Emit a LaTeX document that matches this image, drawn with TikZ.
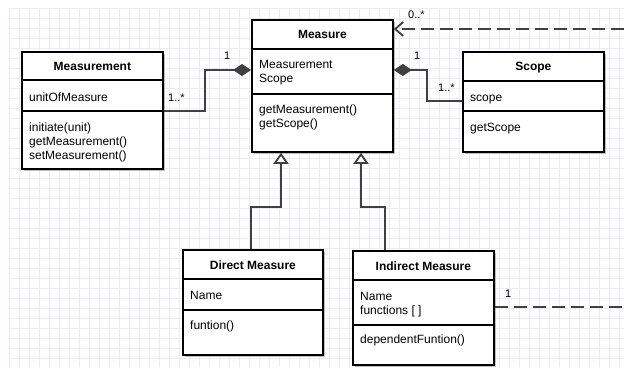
\documentclass[tikz,border=0pt]{standalone}
\usepackage{fontspec}
\setmainfont{Liberation Sans}
\usetikzlibrary{arrows.meta}

\definecolor{gridc}{RGB}{236,234,252}
\definecolor{linkgray}{RGB}{64,64,64}

\tikzset{
  classbox/.style={draw=black, line width=1.8pt, fill=white, inner sep=0pt, anchor=north west},
  boxshadow/.style={fill=black!25},
  sepline/.style={draw=black, line width=1.8pt},
  title/.style={font=\fontsize{12}{13}\selectfont\bfseries, anchor=base, inner sep=0pt},
  member/.style={font=\fontsize{12}{13}\selectfont, anchor=base west, inner sep=0pt},
  mult/.style={font=\fontsize{11}{12}\selectfont, anchor=base west, inner sep=0pt},
  link/.style={draw=linkgray, line width=1.8pt},
  dashlink/.style={link, dash pattern=on 13pt off 6pt},
  gridline/.style={draw=gridc, line width=0.7pt},
  compose/.tip={Diamond[length=18pt, width=12pt, fill=linkgray]},
  inherit/.tip={Triangle[open, length=11pt, width=15pt, fill=white]},
  navig/.tip={Straight Barb[length=8pt, width=14pt]},
}

% #1 name, #2 left, #3 top, #4 right, #5 bottom (pixel units, y downwards)
\newcommand\umlbox[5]{%
  \fill[boxshadow] (#2+3,#3+3) rectangle (#4+3,#5+3);
  \node[classbox, minimum width=#4pt-#2pt, minimum height=#5pt-#3pt] (#1) at (#2,#3) {};
}
% horizontal compartment line across box #1 at height #2
\newcommand\umlsep[2]{\draw[sepline] (#1.west |- 0,#2) -- (#1.east |- 0,#2);}

\begin{document}
\begin{tikzpicture}[x=1pt, y=-1pt]
  \useasboundingbox (0,0) rectangle (624,367);
  \fill[white] (0,0) rectangle (624,367);

  % background grid
  \foreach \gx in {9,19,...,619} \draw[gridline] (\gx,8) -- (\gx,367);
  \foreach \gy in {8,18,...,358} \draw[gridline] (9,\gy) -- (624,\gy);

  % class frames
  \umlbox{measurement}{21}{51}{162}{168}
  \umlbox{measure}{251}{19}{392}{151}
  \umlbox{scope}{462}{51}{603}{151}
  \umlbox{direct}{182}{249}{322}{354}
  \umlbox{indirect}{352}{250}{493}{364}

  \umlsep{measurement}{80}  \umlsep{measurement}{111}
  \umlsep{measure}{49}      \umlsep{measure}{94}
  \umlsep{scope}{81}        \umlsep{scope}{111}
  \umlsep{direct}{279}      \umlsep{direct}{310}
  \umlsep{indirect}{280}    \umlsep{indirect}{325}

  % Measurement
  \node[title]  (t1) at (measurement.north |- 0,70.5) {Measurement};
  \node[member] (a1) at (29,101) {unitOfMeasure};
  \node[member] (m1a) at (29,131) {initiate(unit)};
  \node[member] (m1b) at (29,145) {getMeasurement()};
  \node[member] (m1c) at (29,159) {setMeasurement()};

  % Measure
  \node[title]  (t2) at (measure.north |- 0,38.5) {Measure};
  \node[member] (a2a) at (259,68) {Measurement};
  \node[member] (a2b) at (259,82) {Scope};
  \node[member] (m2a) at (259,113) {getMeasurement()};
  \node[member] (m2b) at (259,127) {getScope()};

  % Scope
  \node[title]  (t3) at (scope.north |- 0,70.5) {Scope};
  \node[member] (a3) at (470,101) {scope};
  \node[member] (m3) at (470,131) {getScope};

  % Direct Measure
  \node[title]  (t4) at (direct.north |- 0,269.5) {Direct Measure};
  \node[member] (a4) at (190,299) {Name};
  \node[member] (m4) at (190,329) {funtion()};

  % Indirect Measure
  \node[title]  (t5) at (indirect.north |- 0,270.5) {Indirect Measure};
  \node[member] (a5a) at (360,300) {Name};
  \node[member] (a5b) at (360,314) {functions [ ]};
  \node[member] (m5) at (360,343) {dependentFuntion()};

  % loose ends of the dashed links at the right border
  \coordinate (farA) at (624,29);
  \coordinate (farB) at (624,307);
  \coordinate (dmTop) at (251,249);
  \coordinate (imTop) at (385,250);

  % compositions
  \draw[link, -{compose}] (measurement.east |- 0,111) -| (205,70) -- (measure.west |- 0,70);
  \draw[link, {compose}-] (measure.east |- 0,70) -| (427,101) -- (scope.west |- 0,101);

  % navigable dashed associations
  \draw[dashlink, -{navig}] (farA) -- (measure.east |- farA);
  \draw[dashlink] (indirect.east |- farB) -- (farB);

  % generalisations
  \draw[link, -{inherit}] (dmTop) |- (281,207) -- (measure.south -| 281,0);
  \draw[link, -{inherit}] (imTop) |- (361,207) -- (measure.south -| 361,0);

  % multiplicities
  \node[mult] (k1) at (224,59) {1};
  \node[mult] (k2) at (168,101) {1..*};
  \node[mult] (k3) at (414,59) {1};
  \node[mult] (k4) at (438,91) {1..*};
  \node[mult] (k5) at (408,18) {0..*};
  \node[mult] (k6) at (505,297) {1};
\end{tikzpicture}
\end{document}
